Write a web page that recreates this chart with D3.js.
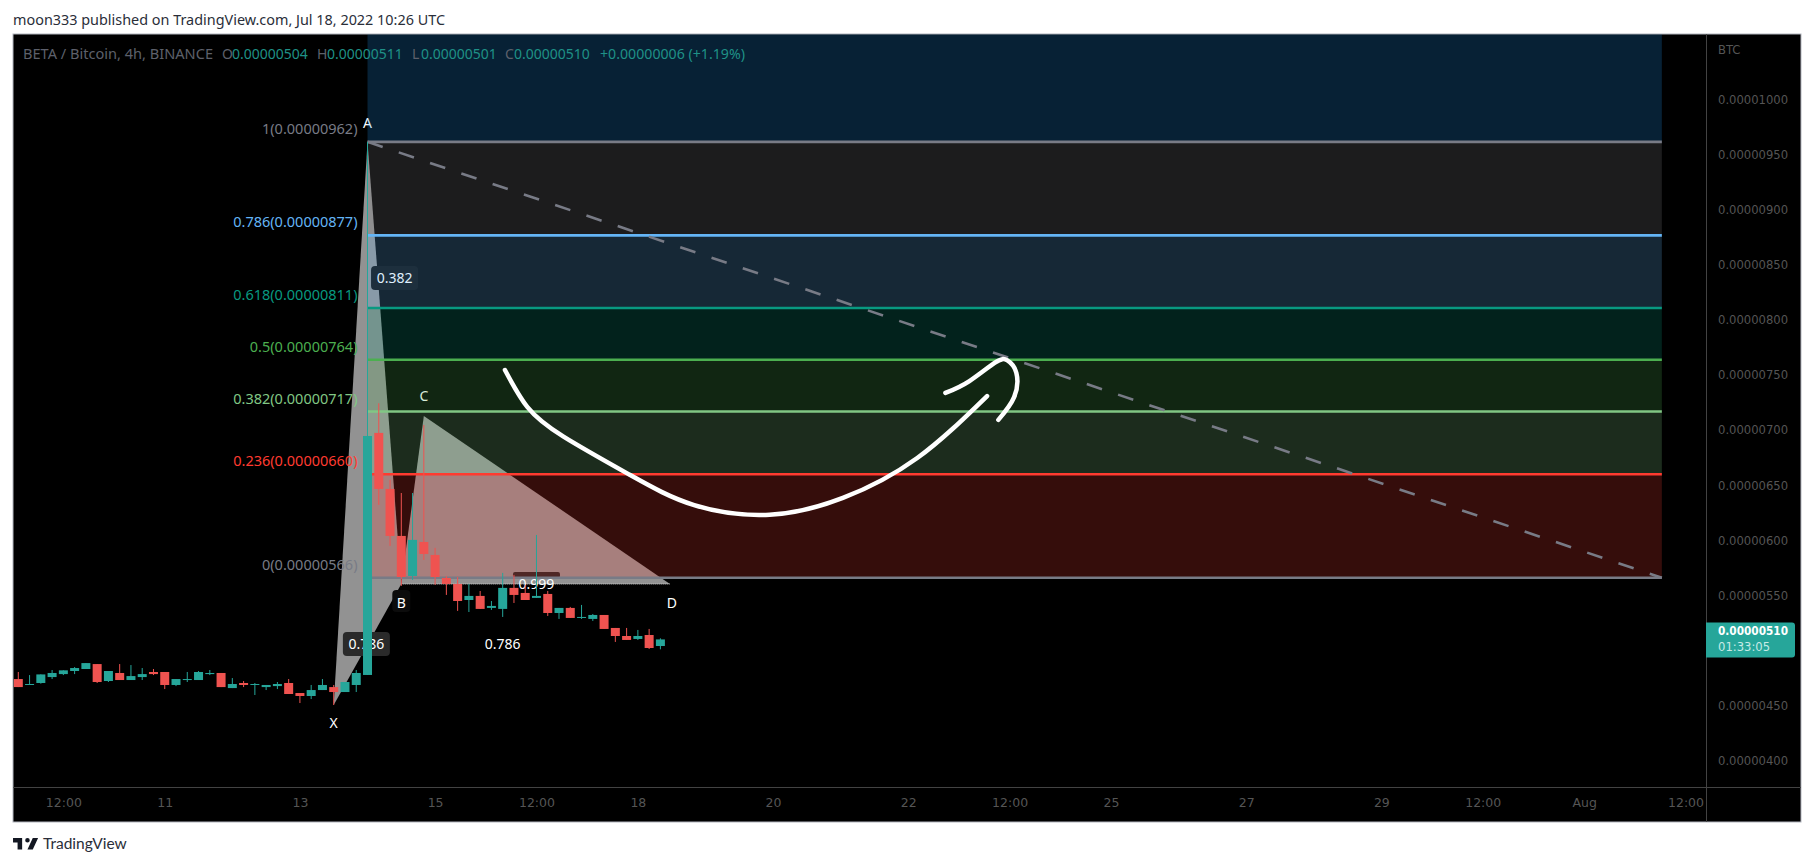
<!DOCTYPE html>
<html><head><meta charset="utf-8">
<script src="https://cdnjs.cloudflare.com/ajax/libs/d3/7.8.5/d3.min.js"></script>
<style>html,body{margin:0;padding:0;background:#fff}svg{display:block}</style></head><body>
<svg id="c" width="1814" height="866" font-family="Noto Sans, sans-serif"></svg>
<script>
// --- data (prices in units of 1e-8 BTC, x in bar index) ---
const opens =[474,468.9,470.4,475.8,478.5,481.3,483.1,487.6,472.2,479.5,473.1,475.8,480.4,480.4,468.6,473.1,473.1,478.5,479.5,465.8,470.4,468.6,466.7,467.6,470.4,461.3,458.6,464,466.7,462.2,468.6,477.7,697.6,646.7,604,567.6,598.5,586.7,565.8,560.4,545.8,549.5,538.6,537.7,556.8,552.2,547.7,551.3,534,538.6,529.5,528.6,532.2,520.4,513.1,510.4,514,504];
const highs =[480.4,477.6,478.2,482.2,481.9,484.9,488.5,487.6,481.3,487.6,486.7,484,483.1,480.4,474,480.4,481.3,482.2,479.5,474.9,472.2,470.4,468.6,471.3,474,461.3,468.6,474,468.6,471.3,482.2,962,724.5,654.9,643,643,704.8,593.1,567.6,566.7,560.4,554,544.9,570.4,568.6,559.5,604.9,554,538.6,539.5,541.3,533.1,532.2,520.4,520.4,518.6,519.5,511];
const lows  =[466.7,468.9,469.8,474,477.6,478.5,483.1,470.4,471.3,473.1,473.1,473.1,477.6,464.9,467.6,471.3,473.1,477.6,466.7,465.8,466.7,459.5,464,464.9,460.4,452.2,455.8,464,450.4,462.2,462.2,477.7,632.2,594.9,558.6,564,582.2,559.5,550.4,535.9,534.9,537.7,536.8,530.4,543.1,545.8,547.7,531.3,528.6,529.5,528.6,526.8,519.5,507.7,509.5,509.5,501.3,501];
const closes=[466.7,469.5,478.2,479.5,481.9,484,488.5,471.3,481.3,473.1,476.7,478.5,478.5,468.6,474,474,480.4,479.5,466.7,469.5,468.6,469.5,468.6,469.5,460.4,458.6,464,468.6,462.2,471.3,479.5,694.8,646.7,604,566.7,600.4,587.6,566.7,560.4,544.9,549.5,537.7,540.4,556.8,550.4,545.8,549.5,534,538.6,529.5,530.4,532.2,519.5,513.1,509.5,513.1,502.2,510];

const fibRatios=["1.618","1","0.786","0.618","0.5","0.382","0.236","0"];
const fibPrices=[1207,962,877,811,764,717,660,566];
const fibColors=["#2196F3","#808084","#64B5F6","#089981","#4CAF50","#81C784","#F23A30","#787B86"];
const fibLineColors=[null,"#787B86","#64B5F6","#089981","#4CAF50","#81C784","#FF3B30","#787B86"];
const fibStartBar=31, fibEndBar=145.9;

const pointNames=["X","A","B","C","D"];
const pointBars=[28,31,34,36,57.85];
const pointPrices=[450.4,962,560.3,713,560.3];
const ratioTexts=["0.382","0.786","0.786","0.999"];
const ratioBars=[33.4,30.9,43,46];
const ratioPrices=[838.3,505.8,505.8,560.3];
const ratioBoxFill=["#0a0a0a","#2a2a2a",null,"#222222"];
const ratioBoxHeight=[24,24,0,6];

const curveBars=[43.2,45.2,48.4,54.3,60,66.7,73.2,79.8,86];
const curvePrices=[754.7,721,694.2,659.4,632,623.3,638.5,674.8,731.1];
const arrowBars=[82.3,84.4,86.7,87.8,88.6,88.4,87];
const arrowPrices=[733.9,744.5,761.5,763.4,752,730,709.4];

const timeBars=[4,13,25,37,46,55,67,79,88,97,109,121,130,139,148];
const timeLabels=["12:00","11","13","15","12:00","18","20","22","12:00","25","27","29","12:00","Aug","12:00"];
const priceTicks=[400,450,550,600,650,700,750,800,850,900,950,1000];
const lastPrice=510;

const legendParts=[["BETA / Bitcoin, 4h, BINANCE",23,"#5d606b",190],["O",222,"#5d606b",0],["0.00000504",232,"#1f9187",0],["H",317,"#5d606b",0],["0.00000511",327,"#1f9187",0],["L",412,"#5d606b",0],["0.00000501",421,"#1f9187",0],["C",505,"#5d606b",0],["0.00000510",514,"#1f9187",0],["+0.00000006 (+1.19%)",600,"#1f9187",145]];

// --- layout ---
const W=1814,H=866;
const frame={l:13,t:34,r:1801,b:822}, axisX=1706, axisY=787;
const x=d3.scaleLinear().domain([0,148]).range([18.3,1685.5]);
const y=d3.scaleLinear().domain([400,1000]).range([760.5,100]);
const fmt=v=>(v/1e8).toFixed(8);

const svg=d3.select("#c");
svg.append("rect").attr("width",W).attr("height",H).attr("fill","#fff");
svg.append("text").attr("x",13).attr("y",25).attr("font-size",14).attr("fill","#2a2e39")
  .attr("textLength",432).attr("lengthAdjust","spacingAndGlyphs")
  .text("moon333 published on TradingView.com, Jul 18, 2022 10:26 UTC");
svg.append("rect").attr("x",frame.l).attr("y",frame.t).attr("width",frame.r-frame.l).attr("height",frame.b-frame.t)
  .attr("fill","#000").attr("stroke","#b2b5be").attr("stroke-width",1);

svg.append("clipPath").attr("id","plot").append("rect").attr("x",frame.l+.5).attr("y",frame.t+.5)
  .attr("width",axisX-frame.l-1).attr("height",axisY-frame.t-1);
const g=svg.append("g").attr("clip-path","url(#plot)");

// harmonic pattern (sits under the fib drawing)
const pt=i=>[x(pointBars[i]),y(pointPrices[i])];
const pattern=g.append("g");
[[0,1,2],[2,3,4]].forEach(t=>{
  pattern.append("path").attr("d","M"+t.map(pt).map(p=>p.join(",")).join("L")+"Z").attr("fill","#929292");
});
pattern.append("line").attr("x1",pt(2)[0]).attr("x2",pt(4)[0]).attr("y1",pt(2)[1]).attr("y2",pt(4)[1])
  .attr("stroke","#d0d0d0").attr("stroke-width",1).attr("stroke-dasharray","1,1");
ratioTexts.forEach((t,i)=>{
  if(!ratioBoxFill[i]) return;
  pattern.append("rect").attr("x",x(ratioBars[i])-23.5).attr("y",y(ratioPrices[i])-12).attr("width",47).attr("height",ratioBoxHeight[i]).attr("rx",ratioBoxHeight[i]>6?4:2)
    .attr("fill",ratioBoxFill[i]);
});
pattern.append("rect").attr("x",x(34)-9).attr("y",y(560.3)+6).attr("width",18).attr("height",22).attr("rx",4).attr("fill","#0c0c0c");
ratioTexts.forEach((t,i)=>{
  pattern.append("text").attr("x",x(ratioBars[i])).attr("y",y(ratioPrices[i])+5).attr("text-anchor","middle")
    .attr("font-size",14).attr("fill","#fff").text(t);
});
const nameOff=[18,-19,19,-20,19], nameDx=[0,0,0,0,2];
pointNames.forEach((t,i)=>{
  pattern.append("text").attr("x",pt(i)[0]+nameDx[i]).attr("y",pt(i)[1]+nameOff[i]+5).attr("text-anchor","middle")
    .attr("font-size",14).attr("fill","#fff").text(t);
});

// fib bands, lines, labels
const fg=g.append("g");
fibPrices.slice(0,-1).forEach((p,i)=>{
  fg.append("rect").attr("x",x(fibStartBar)).attr("width",x(fibEndBar)-x(fibStartBar))
    .attr("y",y(p)).attr("height",y(fibPrices[i+1])-y(p)).attr("fill",fibColors[i]).attr("fill-opacity",.22);
});
fibPrices.forEach((p,i)=>{
  if(!fibLineColors[i]) return;
  fg.append("line").attr("x1",x(fibStartBar)).attr("x2",x(fibEndBar)).attr("y1",y(p)).attr("y2",y(p))
    .attr("stroke",fibLineColors[i]).attr("stroke-width",2.6);
  fg.append("text").attr("x",x(fibStartBar)-10).attr("y",y(p)-8).attr("text-anchor","end").attr("font-size",14.5)
    .attr("fill",fibLineColors[i]).text(fibRatios[i]+"("+fmt(p)+")");
});
fg.append("line").attr("x1",x(fibStartBar)).attr("y1",y(fibPrices[1])).attr("x2",x(fibEndBar)).attr("y2",y(fibPrices[7]))
  .attr("stroke","#787B86").attr("stroke-width",2.6).attr("stroke-dasharray","16,17");

// candles
const idx=d3.range(opens.length);
const colour=i=>closes[i]>=opens[i]?"#26A69A":"#EF5350";
const cg=g.append("g");
cg.selectAll("line").data(idx).join("line")
  .attr("x1",i=>x(i)).attr("x2",i=>x(i)).attr("y1",i=>y(highs[i])).attr("y2",i=>y(lows[i])).attr("stroke",colour).attr("stroke-width",1);
cg.selectAll("rect").data(idx).join("rect")
  .attr("x",i=>x(i)-4.5).attr("width",9)
  .attr("y",i=>y(Math.max(opens[i],closes[i])))
  .attr("height",i=>Math.max(1,Math.abs(y(opens[i])-y(closes[i])))).attr("fill",colour);

// hand-drawn arrow
const gen=d3.line().x(d=>x(d[0])).y(d=>y(d[1])).curve(d3.curveNatural);
[[curveBars,curvePrices],[arrowBars,arrowPrices]].forEach(([b,p])=>{
  g.append("path").attr("d",gen(b.map((v,i)=>[v,p[i]]))).attr("fill","none").attr("stroke","#fff")
    .attr("stroke-width",4.5).attr("stroke-linecap","round").attr("stroke-linejoin","round");
});

// legend
const leg=svg.append("g");
legendParts.forEach(d=>{
  const t=leg.append("text").attr("x",d[1]).attr("y",59).attr("font-size",14).attr("fill",d[2]).text(d[0]);
  if(d[3]) t.attr("textLength",d[3]).attr("lengthAdjust","spacingAndGlyphs");
});

// axes
const axisColor="#434343", tickText="#555555";
const ax=svg.append("g").attr("transform",`translate(0,${axisY})`)
  .call(d3.axisBottom(x).tickValues(timeBars).tickFormat((d,i)=>timeLabels[i]).tickSize(0).tickPadding(11));
ax.select(".domain").remove();
ax.selectAll("text").attr("font-size",12.5).attr("font-family","DejaVu Sans").attr("fill",tickText);
const ay=svg.append("g").attr("transform",`translate(${axisX},0)`)
  .call(d3.axisRight(y).tickValues(priceTicks).tickFormat(fmt).tickSize(0).tickPadding(12));
ay.select(".domain").remove();
ay.selectAll("text").attr("font-size",11.6).attr("font-family","DejaVu Sans").attr("fill",tickText);
svg.append("line").attr("x1",frame.l).attr("x2",frame.r).attr("y1",axisY+.5).attr("y2",axisY+.5).attr("stroke",axisColor);
svg.append("line").attr("x1",axisX+.5).attr("x2",axisX+.5).attr("y1",frame.t).attr("y2",frame.b).attr("stroke",axisColor);
svg.append("text").attr("x",axisX+12).attr("y",54).attr("font-size",11.6).attr("font-family","DejaVu Sans").attr("fill",tickText).text("BTC");

// last price tag
const ty=y(lastPrice);
svg.append("path").attr("d",`M${axisX},${ty-17}H${axisX+86}a3,3 0 0 1 3,3V${ty+15}a3,3 0 0 1 -3,3H${axisX}Z`).attr("fill","#26A69A");
svg.append("text").attr("x",axisX+12).attr("y",ty-4).attr("font-size",11.6).attr("font-family","DejaVu Sans").attr("font-weight","bold").attr("fill","#fff")
  .attr("textLength",70).attr("lengthAdjust","spacingAndGlyphs").text(fmt(lastPrice));
svg.append("text").attr("x",axisX+12).attr("y",ty+12).attr("font-size",11.6).attr("font-family","DejaVu Sans").attr("fill","#c8ebe7").text("01:33:05");

// footer logo
svg.append("path").attr("transform","translate(11.5,833.5) scale(.76)").attr("fill","#131722")
  .attr("d","M14 6H2v6h6v9h6V6zm14 15h-7l7-15h7l-7 15zm-7-9a3 3 0 1 0 0-6 3 3 0 0 0 0 6z");
svg.append("text").attr("x",43).attr("y",849).attr("font-size",15.5).attr("font-family","Lato").attr("fill","#2a2e39").text("TradingView");
</script></body></html>
